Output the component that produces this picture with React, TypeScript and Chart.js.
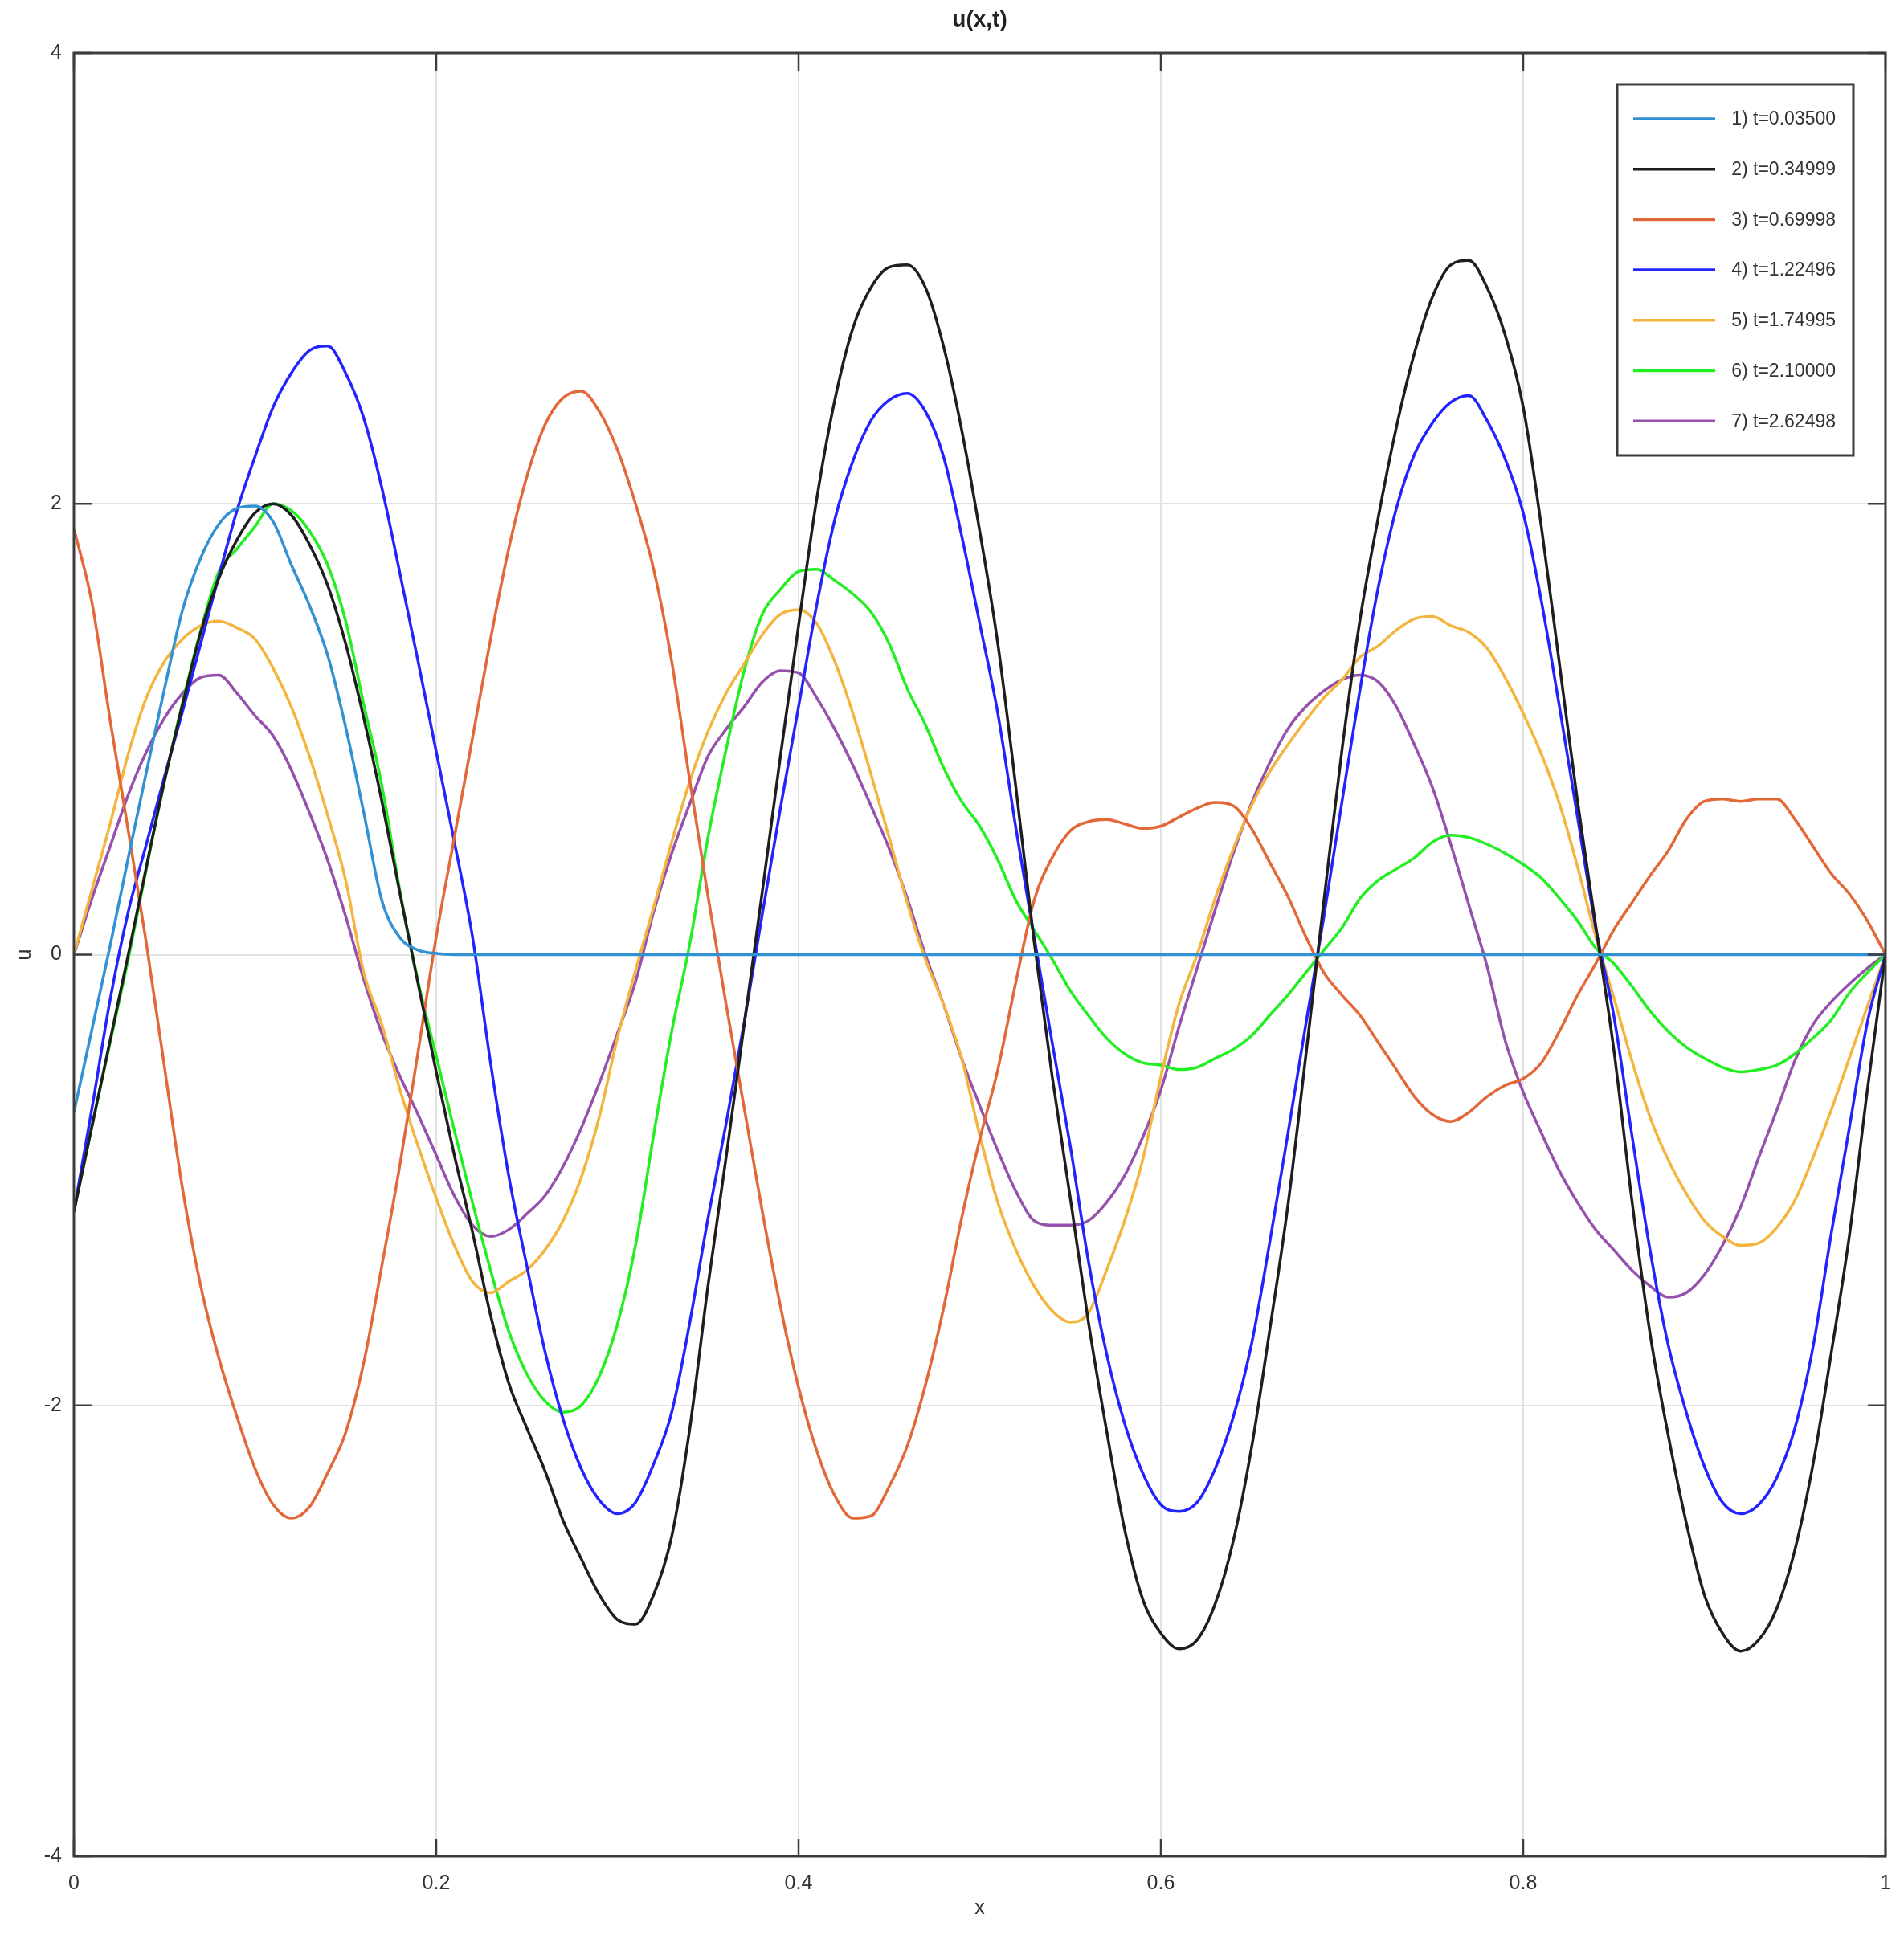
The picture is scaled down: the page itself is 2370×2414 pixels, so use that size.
import React, { useEffect, useRef } from "react";
import { Chart, registerables } from "chart.js";

Chart.register(...registerables);

const TITLE = "u(x,t)";
const X_LABEL = "x";
const Y_LABEL = "u";

const xs = [
  0, 0.01, 0.02, 0.03, 0.04, 0.05, 0.06, 0.07, 0.08, 0.09,
  0.1, 0.11, 0.12, 0.13, 0.14, 0.15, 0.16, 0.17, 0.18, 0.19,
  0.2, 0.21, 0.22, 0.23, 0.24, 0.25, 0.26, 0.27, 0.28, 0.29,
  0.3, 0.31, 0.32, 0.33, 0.34, 0.35, 0.36, 0.37, 0.38, 0.39,
  0.4, 0.41, 0.42, 0.43, 0.44, 0.45, 0.46, 0.47, 0.48, 0.49,
  0.5, 0.51, 0.52, 0.53, 0.54, 0.55, 0.56, 0.57, 0.58, 0.59,
  0.6, 0.61, 0.62, 0.63, 0.64, 0.65, 0.66, 0.67, 0.68, 0.69,
  0.7, 0.71, 0.72, 0.73, 0.74, 0.75, 0.76, 0.77, 0.78, 0.79,
  0.8, 0.81, 0.82, 0.83, 0.84, 0.85, 0.86, 0.87, 0.88, 0.89,
  0.9, 0.91, 0.92, 0.93, 0.94, 0.95, 0.96, 0.97, 0.98, 0.99, 1,
];

const labels = [
  "1) t=0.03500",
  "2) t=0.34999",
  "3) t=0.69998",
  "4) t=1.22496",
  "5) t=1.74995",
  "6) t=2.10000",
  "7) t=2.62498",
];

const colors = ["#3191d2", "#1e1e1e", "#e2683a", "#2323ff", "#f4b53f", "#22ee22", "#9651ad"];

const u1 = [
  -0.7, -0.33, 0.04, 0.43, 0.81, 1.18, 1.53, 1.76, 1.91, 1.98,
  1.99, 1.92, 1.73, 1.55, 1.33, 1.01, 0.63, 0.24, 0.075, 0.02,
  0.005, 0, 0, 0, 0, 0, 0, 0, 0, 0,
  0, 0, 0, 0, 0, 0, 0, 0, 0, 0,
  0, 0, 0, 0, 0, 0, 0, 0, 0, 0,
  0, 0, 0, 0, 0, 0, 0, 0, 0, 0,
  0, 0, 0, 0, 0, 0, 0, 0, 0, 0,
  0, 0, 0, 0, 0, 0, 0, 0, 0, 0,
  0, 0, 0, 0, 0, 0, 0, 0, 0, 0,
  0, 0, 0, 0, 0, 0, 0, 0, 0, 0, 0,
];

const u2 = [
  -1.14, -0.76, -0.38, 0.0, 0.39, 0.77, 1.11, 1.43, 1.67, 1.84,
  1.96, 2.0, 1.95, 1.82, 1.64, 1.38, 1.05, 0.68, 0.27, -0.13,
  -0.52, -0.89, -1.23, -1.6, -1.9, -2.1, -2.29, -2.51, -2.68, -2.84,
  -2.95, -2.97, -2.84, -2.58, -2.1, -1.47, -0.9, -0.31, 0.28, 0.88,
  1.46, 2.02, 2.46, 2.78, 2.96, 3.05, 3.06, 2.96, 2.7, 2.33,
  1.88, 1.38, 0.74, 0.06, -0.54, -1.08, -1.63, -2.11, -2.55, -2.86,
  -3.01, -3.08, -3.04, -2.88, -2.6, -2.19, -1.67, -1.12, -0.45, 0.24,
  0.91, 1.49, 1.94, 2.34, 2.67, 2.92, 3.06, 3.08, 2.96, 2.75,
  2.43, 1.9, 1.29, 0.68, 0.13, -0.42, -1.09, -1.68, -2.13, -2.52,
  -2.84, -3.01, -3.09, -3.04, -2.9, -2.64, -2.26, -1.77, -1.25, -0.6, 0,
];

const u3 = [
  1.89, 1.56, 1.04, 0.55, 0.05, -0.5, -1.04, -1.47, -1.79, -2.05,
  -2.28, -2.44, -2.5, -2.45, -2.3, -2.12, -1.81, -1.38, -0.93, -0.43,
  0.08, 0.52, 0.96, 1.4, 1.8, 2.12, 2.35, 2.47, 2.5, 2.41,
  2.24, 2.0, 1.71, 1.3, 0.77, 0.26, -0.22, -0.68, -1.14, -1.56,
  -1.92, -2.2, -2.4, -2.5, -2.49, -2.36, -2.18, -1.91, -1.57, -1.17,
  -0.82, -0.51, -0.12, 0.24, 0.43, 0.55, 0.59, 0.6, 0.58, 0.56,
  0.57, 0.61, 0.65, 0.675, 0.66, 0.56, 0.41, 0.26, 0.08, -0.08,
  -0.18, -0.27, -0.39, -0.51, -0.63, -0.71, -0.74, -0.7, -0.63, -0.58,
  -0.55, -0.48, -0.34, -0.18, -0.04, 0.11, 0.23, 0.35, 0.46, 0.6,
  0.68, 0.69, 0.68, 0.69, 0.69, 0.6, 0.48, 0.36, 0.27, 0.15, 0,
];

const u4 = [
  -1.14, -0.68, -0.2, 0.19, 0.49, 0.79, 1.08, 1.38, 1.68, 1.97,
  2.21, 2.43, 2.58, 2.68, 2.7, 2.58, 2.38, 2.07, 1.69, 1.3,
  0.9, 0.5, 0.08, -0.48, -0.98, -1.38, -1.76, -2.06, -2.28, -2.42,
  -2.48, -2.43, -2.26, -2.03, -1.63, -1.17, -0.75, -0.3, 0.18, 0.65,
  1.1, 1.55, 1.93, 2.19, 2.37, 2.46, 2.49, 2.41, 2.21, 1.86,
  1.47, 1.07, 0.56, 0.08, -0.39, -0.85, -1.36, -1.77, -2.08, -2.3,
  -2.44, -2.47, -2.43, -2.28, -2.05, -1.73, -1.28, -0.8, -0.31, 0.17,
  0.68, 1.18, 1.63, 1.98, 2.22, 2.36, 2.45, 2.48, 2.37, 2.2,
  1.96, 1.57, 1.1, 0.61, 0.12, -0.27, -0.8, -1.31, -1.73, -2.03,
  -2.27, -2.43, -2.48, -2.44, -2.32, -2.1, -1.74, -1.24, -0.77, -0.3, 0,
];

const u5 = [
  0, 0.29, 0.58, 0.89, 1.14, 1.3, 1.4, 1.46, 1.48, 1.45,
  1.4, 1.27, 1.1, 0.88, 0.62, 0.33, -0.08, -0.31, -0.6, -0.85,
  -1.08, -1.29, -1.45, -1.5, -1.45, -1.4, -1.31, -1.18, -0.99, -0.72,
  -0.37, -0.07, 0.21, 0.5, 0.77, 0.99, 1.16, 1.29, 1.42, 1.51,
  1.53, 1.47, 1.3, 1.07, 0.8, 0.52, 0.23, -0.02, -0.22, -0.46,
  -0.8, -1.1, -1.31, -1.47, -1.58, -1.63, -1.59, -1.4, -1.18, -0.91,
  -0.54, -0.22, 0.0, 0.25, 0.47, 0.66, 0.81, 0.93, 1.04, 1.14,
  1.22, 1.32, 1.37, 1.44, 1.49, 1.5, 1.46, 1.43, 1.36, 1.23,
  1.07, 0.89, 0.67, 0.39, 0.08, -0.19, -0.47, -0.72, -0.91, -1.06,
  -1.18, -1.25, -1.29, -1.28, -1.21, -1.09, -0.9, -0.69, -0.46, -0.23, 0,
];

const u6 = [
  -1.14, -0.76, -0.39, -0.02, 0.38, 0.77, 1.12, 1.44, 1.7, 1.8,
  1.9, 2.0, 1.97, 1.88, 1.73, 1.48, 1.11, 0.75, 0.28, -0.12,
  -0.45, -0.78, -1.1, -1.4, -1.67, -1.86, -1.98, -2.03, -2.0, -1.87,
  -1.64, -1.29, -0.8, -0.34, 0.05, 0.52, 0.91, 1.26, 1.51, 1.62,
  1.7, 1.71, 1.66, 1.6, 1.52, 1.38, 1.18, 1.02, 0.83, 0.68,
  0.57, 0.42, 0.24, 0.11, -0.02, -0.16, -0.27, -0.37, -0.44, -0.48,
  -0.49, -0.51, -0.5, -0.46, -0.42, -0.36, -0.27, -0.18, -0.08, 0.02,
  0.12, 0.25, 0.33, 0.38, 0.43, 0.5, 0.53, 0.52, 0.49, 0.45,
  0.4, 0.34, 0.25, 0.15, 0.03, -0.04, -0.14, -0.25, -0.34, -0.41,
  -0.46, -0.5, -0.52, -0.51, -0.49, -0.44, -0.37, -0.29, -0.17, -0.08, 0,
];

const u7 = [
  0, 0.25, 0.48, 0.71, 0.9, 1.05, 1.16, 1.23, 1.24, 1.16,
  1.06, 0.97, 0.82, 0.63, 0.42, 0.17, -0.11, -0.35, -0.54, -0.71,
  -0.89, -1.07, -1.2, -1.25, -1.22, -1.15, -1.07, -0.94, -0.77, -0.57,
  -0.35, -0.12, 0.19, 0.45, 0.67, 0.88, 1.0, 1.1, 1.21, 1.26,
  1.25, 1.14, 1.0, 0.84, 0.66, 0.47, 0.25, 0.0, -0.22, -0.46,
  -0.67, -0.87, -1.05, -1.18, -1.2, -1.2, -1.18, -1.1, -0.98, -0.81,
  -0.6, -0.32, -0.06, 0.2, 0.45, 0.67, 0.85, 1.0, 1.1, 1.17,
  1.22, 1.24, 1.21, 1.1, 0.93, 0.74, 0.49, 0.22, -0.05, -0.38,
  -0.61, -0.79, -0.96, -1.1, -1.22, -1.31, -1.4, -1.47, -1.52, -1.5,
  -1.42, -1.29, -1.12, -0.9, -0.69, -0.47, -0.31, -0.21, -0.13, -0.06, 0,
];

const series = [u1, u2, u3, u4, u5, u6, u7];

const X_TICK_STEP = 0.2;
const Y_TICK_STEP = 2;

const FONT = '"Liberation Sans", Arial, Helvetica, sans-serif';
const FRAME = "#3c3c3c";
const TEXT = "#333333";

const fmt = (v: number | string) => String(Number(Number(v).toFixed(4)));

const framePlugin = {
  id: "frameAndLegend",
  afterDatasetsDraw(chart: any) {
    const { ctx, chartArea: a, scales } = chart;
    ctx.save();
    ctx.strokeStyle = FRAME;
    ctx.lineWidth = 2.5;
    const L = 22;
    const seg = (x1: number, y1: number, x2: number, y2: number) => {
      ctx.beginPath();
      ctx.moveTo(x1, y1);
      ctx.lineTo(x2, y2);
      ctx.stroke();
    };
    scales.x.ticks.forEach((t: any) => {
      const px = scales.x.getPixelForValue(t.value);
      seg(px, a.bottom, px, a.bottom - L);
      seg(px, a.top, px, a.top + L);
    });
    scales.y.ticks.forEach((t: any) => {
      const py = scales.y.getPixelForValue(t.value);
      seg(a.left, py, a.left + L, py);
      seg(a.right, py, a.right - L, py);
    });
    ctx.lineWidth = 3;
    ctx.strokeRect(a.left, a.top, a.right - a.left, a.bottom - a.top);

    const bw = 294;
    const bh = 462;
    const bx = a.right - 40 - bw;
    const by = a.top + 39;
    ctx.fillStyle = "#ffffff";
    ctx.fillRect(bx, by, bw, bh);
    ctx.strokeStyle = FRAME;
    ctx.lineWidth = 3;
    ctx.strokeRect(bx, by, bw, bh);
    const rowH = 62.7;
    ctx.font = `23px ${FONT}`;
    ctx.textAlign = "right";
    ctx.textBaseline = "middle";
    chart.data.datasets.forEach((ds: any, i: number) => {
      const y = by + 43 + i * rowH;
      ctx.strokeStyle = ds.borderColor;
      ctx.lineWidth = 3.5;
      seg(bx + 20, y, bx + 122, y);
      ctx.fillStyle = TEXT;
      ctx.fillText(ds.label, bx + 272, y + 1);
    });
    ctx.restore();
  },
};

export default function App() {
  const ref = useRef<HTMLCanvasElement | null>(null);

  useEffect(() => {
    if (!ref.current) return;
    const datasets = series.map((s, i) => ({
      label: labels[i],
      data: xs.map((x, j) => ({ x, y: s[j] })),
      borderColor: colors[i],
      backgroundColor: colors[i],
      borderWidth: 3.5,
      pointRadius: 0,
      cubicInterpolationMode: "monotone" as const,
      fill: false,
    }));
    const chart = new Chart(ref.current, {
      type: "line",
      data: { datasets },
      options: {
        animation: false,
        responsive: false,
        devicePixelRatio: 1,
        layout: { padding: { top: 0, right: 23, bottom: 0, left: 0 } },
        plugins: {
          legend: { display: false },
          tooltip: { enabled: false },
          title: {
            display: true,
            text: TITLE,
            fullSize: false,
            color: "#222222",
            font: { family: FONT, size: 28, weight: "bold", lineHeight: 1.2 },
            padding: { top: 8, bottom: 24.4 },
          },
        },
        scales: {
          x: {
            type: "linear",
            min: 0,
            max: 1,
            afterFit: (s: any) => {
              s.height = 103;
              s.paddingLeft = 0;
              s.paddingRight = 0;
            },
            ticks: {
              stepSize: X_TICK_STEP,
              color: TEXT,
              padding: 19,
              maxRotation: 0,
              callback: (v: any) => fmt(v),
              font: { family: FONT, size: 25, lineHeight: 1.2 },
            },
            grid: { color: "#e2e2e2", lineWidth: 2, drawTicks: false },
            border: { display: false },
            title: {
              display: true,
              text: X_LABEL,
              color: TEXT,
              font: { family: FONT, size: 25, lineHeight: 1.2 },
              padding: { top: 0, bottom: 23 },
            },
          },
          y: {
            type: "linear",
            min: -4,
            max: 4,
            afterFit: (s: any) => {
              s.width = 92;
              s.paddingTop = 0;
              s.paddingBottom = 0;
            },
            ticks: {
              stepSize: Y_TICK_STEP,
              color: TEXT,
              padding: 15,
              callback: (v: any) => fmt(v),
              font: { family: FONT, size: 25, lineHeight: 1.2 },
            },
            grid: { color: "#e2e2e2", lineWidth: 2, drawTicks: false },
            border: { display: false },
            title: {
              display: true,
              text: Y_LABEL,
              color: TEXT,
              font: { family: FONT, size: 25, lineHeight: 1.2 },
              padding: { top: 16, bottom: 0 },
            },
          },
        },
      },
      plugins: [framePlugin],
    });
    return () => chart.destroy();
  }, []);

  return (
    <div style={{ position: "absolute", left: 0, top: 0, width: 2370, height: 2414, background: "#ffffff" }}>
      <canvas ref={ref} width={2370} height={2414} style={{ display: "block", width: 2370, height: 2414 }} />
    </div>
  );
}
